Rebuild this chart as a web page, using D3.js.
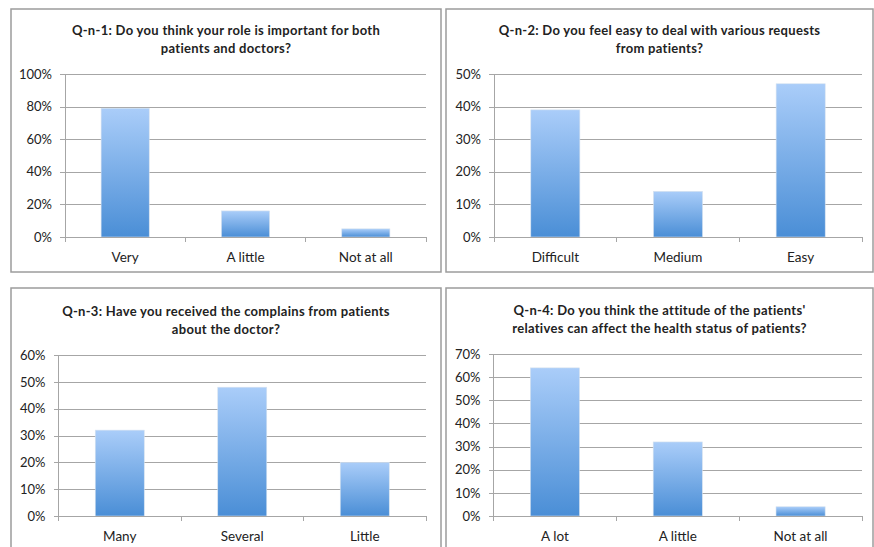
<!DOCTYPE html>
<html>
<head>
<meta charset="utf-8">
<script src="https://cdn.jsdelivr.net/npm/d3@7"></script>
<style>
html,body{margin:0;padding:0;background:#fff;}
svg{display:block;}
text{font-family:Lato,"Open Sans",sans-serif;fill:#222;}
</style>
</head>
<body>
<svg id="chart" width="874" height="547"></svg>
<script>
// ---- data ----
const titles1 = ["Q-n-1: Do you think your role is important for both", "patients and doctors?"];
const categories1 = ["Very", "A little", "Not at all"];
const values1 = [0.79, 0.16, 0.05];
const ticks1 = [0, 0.2, 0.4, 0.6, 0.8, 1.0];

const titles2 = ["Q-n-2: Do you feel easy to deal with various requests", "from patients?"];
const categories2 = ["Difficult", "Medium", "Easy"];
const values2 = [0.39, 0.14, 0.47];
const ticks2 = [0, 0.1, 0.2, 0.3, 0.4, 0.5];

const titles3 = ["Q-n-3: Have you received the complains from patients", "about the doctor?"];
const categories3 = ["Many", "Several", "Little"];
const values3 = [0.32, 0.48, 0.20];
const ticks3 = [0, 0.1, 0.2, 0.3, 0.4, 0.5, 0.6];

const titles4 = ["Q-n-4: Do you think the attitude of the patients'", "relatives can affect the health status of patients?"];
const categories4 = ["A lot", "A little", "Not at all"];
const values4 = [0.64, 0.32, 0.04];
const ticks4 = [0, 0.1, 0.2, 0.3, 0.4, 0.5, 0.6, 0.7];

// ---- layout ----
const svg = d3.select("#chart");
const defs = svg.append("defs");
const grad = defs.append("linearGradient").attr("id", "barGrad")
  .attr("x1", 0).attr("y1", 0).attr("x2", 0).attr("y2", 1);
grad.append("stop").attr("offset", "0%").attr("stop-color", "#aacdf9");
grad.append("stop").attr("offset", "100%").attr("stop-color", "#4a8ed6");

const panels = [
  {titles: titles1, cats: categories1, vals: values1, ticks: ticks1,
   box: [11, 9, 441, 272], x0: 65, x1: 426, yTop: 74, yBot: 237},
  {titles: titles2, cats: categories2, vals: values2, ticks: ticks2,
   box: [446, 9, 873, 272], x0: 494, x1: 862, yTop: 74, yBot: 237},
  {titles: titles3, cats: categories3, vals: values3, ticks: ticks3,
   box: [11, 288, 441, 570], x0: 58.5, x1: 426, yTop: 355, yBot: 516},
  {titles: titles4, cats: categories4, vals: values4, ticks: ticks4,
   box: [446, 288, 873, 570], x0: 493.5, x1: 862, yTop: 354, yBot: 516}
];

const fmt = d3.format(".0%");

panels.forEach(p => {
  const g = svg.append("g");
  const [bx0, by0, bx1, by1] = p.box;
  g.append("rect").attr("x", bx0).attr("y", by0)
    .attr("width", bx1 - bx0).attr("height", by1 - by0)
    .attr("fill", "#fff").attr("stroke", "#9c9c9c").attr("stroke-width", 1.5);

  const cx = (bx0 + bx1) / 2;
  p.titles.forEach((t, i) => {
    g.append("text").attr("x", cx).attr("y", p.yTop - 39 + i * 18)
      .attr("text-anchor", "middle").attr("font-weight", "bold")
      .attr("font-size", 13).attr("letter-spacing", 0.3).text(t);
  });

  const x = d3.scaleBand().domain(p.cats).range([p.x0, p.x1])
    .paddingInner(0.6).paddingOuter(0.3);
  const y = d3.scaleLinear().domain([0, d3.max(p.ticks)]).range([p.yBot, p.yTop]);

  // gridlines
  const yAxis = d3.axisLeft(y).tickValues(p.ticks).tickFormat(fmt)
    .tickSize(-(p.x1 - p.x0)).tickPadding(13);
  const ya = g.append("g").attr("transform", `translate(${p.x0},0)`).call(yAxis);
  ya.select(".domain").remove();
  ya.selectAll(".tick line").attr("stroke", "#a6a6a6").attr("x1", -5).attr("shape-rendering", "crispEdges");
  ya.selectAll(".tick text").attr("font-size", 13).attr("font-family", "Lato,'Open Sans',sans-serif")
    .attr("fill", "#1a1a1a");

  // y-axis line
  g.append("line").attr("x1", p.x0).attr("x2", p.x0).attr("y1", p.yTop).attr("y2", p.yBot)
    .attr("stroke", "#a6a6a6").attr("shape-rendering", "crispEdges");

  // bars
  g.selectAll("rect.bar").data(p.cats).enter().append("rect").attr("class", "bar")
    .attr("x", d => x(d)).attr("width", x.bandwidth())
    .attr("y", (d, i) => y(p.vals[i]))
    .attr("height", (d, i) => y(0) - y(p.vals[i]))
    .attr("fill", "url(#barGrad)")
    .attr("stroke", "#d6e2ef").attr("stroke-width", 0.6);

  // x axis
  const xa = g.append("g").attr("transform", `translate(0,${p.yBot})`)
    .call(d3.axisBottom(x).tickSize(0).tickPadding(15));
  xa.select(".domain").attr("stroke", "#a6a6a6").attr("shape-rendering", "crispEdges");
  xa.selectAll(".tick text").attr("font-size", 13.5).attr("font-family", "Lato,'Open Sans',sans-serif")
    .attr("fill", "#1a1a1a");
  // category separators
  const step = x.step();
  const bounds = d3.range(p.cats.length + 1).map(i => p.x0 + i * step);
  g.selectAll("line.sep").data(bounds).enter().append("line").attr("class", "sep")
    .attr("x1", d => d).attr("x2", d => d)
    .attr("y1", p.yBot).attr("y2", p.yBot + 5)
    .attr("stroke", "#a6a6a6").attr("shape-rendering", "crispEdges");
});
</script>
</body>
</html>
